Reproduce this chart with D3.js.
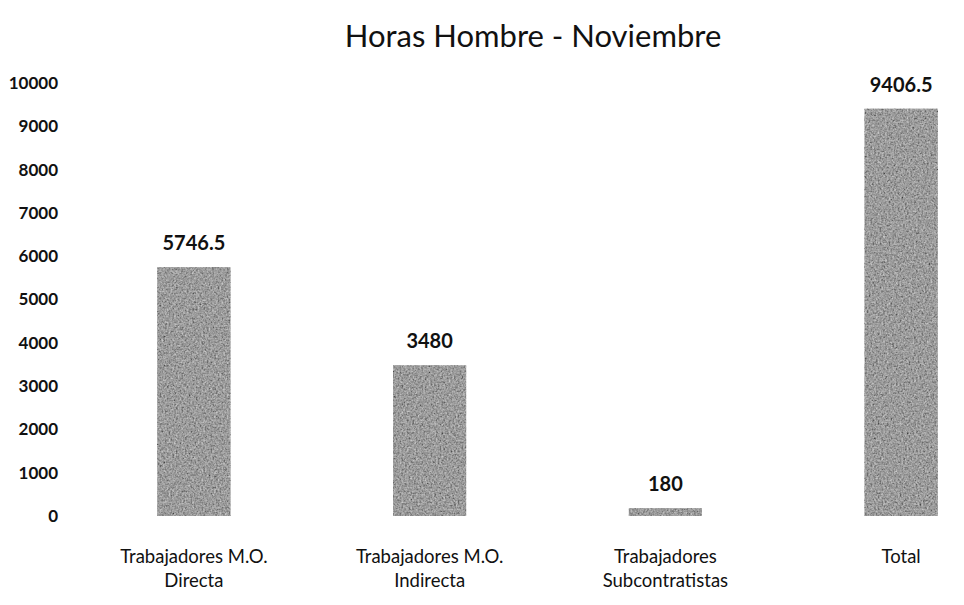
<!DOCTYPE html>
<html>
<head>
<meta charset="utf-8">
<script src="https://cdn.jsdelivr.net/npm/d3@7"></script>
<style>
  html, body { margin: 0; padding: 0; background: #fff; }
  svg { display: block; }
</style>
</head>
<body>
<svg id="chart" width="964" height="605"></svg>
<script>
// Horas hombre por tipo de trabajador, noviembre
const categories = [
  ["Trabajadores M.O.", "Directa"],
  ["Trabajadores M.O.", "Indirecta"],
  ["Trabajadores", "Subcontratistas"],
  ["Total"]
];
const values = [5746.5, 3480, 180, 9406.5];
const valueLabels = ["5746.5", "3480", "180", "9406.5"];
const yTicks = [0, 1000, 2000, 3000, 4000, 5000, 6000, 7000, 8000, 9000, 10000];
const title = "Horas Hombre - Noviembre";

const svg = d3.select("#chart");
const font = "Lato, 'Open Sans', sans-serif";

// grainy grey texture for the bars
const defs = svg.append("defs");
const f = defs.append("filter").attr("id", "grain")
  .attr("x", 0).attr("y", 0).attr("width", "100%").attr("height", "100%");
f.append("feTurbulence").attr("type", "fractalNoise").attr("baseFrequency", 0.55)
  .attr("numOctaves", 3).attr("seed", 5).attr("result", "noise");
f.append("feColorMatrix").attr("in", "noise").attr("type", "matrix")
  .attr("values", "0.33 0.33 0.33 0 0  0.33 0.33 0.33 0 0  0.33 0.33 0.33 0 0  0 0 0 0 1")
  .attr("result", "gray");
f.append("feComposite").attr("in", "SourceGraphic").attr("in2", "gray")
  .attr("operator", "arithmetic").attr("k1", 0).attr("k2", 1).attr("k3", 1.1).attr("k4", -0.55)
  .attr("result", "mix");
f.append("feComposite").attr("in", "mix").attr("in2", "SourceAlpha").attr("operator", "in");

const keys = categories.map(c => c.join(" "));

const x = d3.scaleBand()
  .domain(keys)
  .range([76, 1019])
  .paddingInner(0.69)
  .paddingOuter(0.345);

const y = d3.scaleLinear()
  .domain([0, 10000])
  .range([516, 83]);

// title
svg.append("text")
  .attr("x", 533).attr("y", 47)
  .attr("text-anchor", "middle")
  .attr("font-family", font)
  .attr("font-size", 31)
  .attr("fill", "#111")
  .text(title);

// y axis labels (no axis line)
const yAxis = d3.axisLeft(y).tickValues(yTicks).tickSize(0).tickPadding(0).tickFormat(d3.format("d"));
const gy = svg.append("g").attr("transform", "translate(58,0)").call(yAxis);
gy.select(".domain").remove();
gy.selectAll("text")
  .attr("font-family", font)
  .attr("font-size", 17)
  .attr("font-weight", 700)
  .attr("fill", "#111");

// bars
svg.append("g").selectAll("rect")
  .data(values)
  .join("rect")
  .attr("x", (d, i) => x(keys[i]))
  .attr("width", x.bandwidth())
  .attr("y", d => y(d))
  .attr("height", d => y(0) - y(d))
  .attr("fill", "#9c9c9c")
  .attr("filter", "url(#grain)");

// value labels
svg.append("g").selectAll("text")
  .data(values)
  .join("text")
  .attr("x", (d, i) => x(keys[i]) + x.bandwidth() / 2)
  .attr("y", d => y(d) - 17)
  .attr("text-anchor", "middle")
  .attr("font-family", font)
  .attr("font-size", 20)
  .attr("font-weight", 700)
  .attr("fill", "#111")
  .text((d, i) => valueLabels[i]);

// category labels
const xAxis = d3.axisBottom(x).tickSize(0).tickPadding(0).tickFormat("");
const gx = svg.append("g").attr("transform", `translate(0,${y(0)})`).call(xAxis);
gx.select(".domain").remove();
gx.selectAll(".tick").each(function(d, i) {
  const t = d3.select(this).append("text")
    .attr("text-anchor", "middle")
    .attr("font-family", font)
    .attr("font-size", 18.5)
    .attr("fill", "#111");
  categories[i].forEach((line, j) => {
    t.append("tspan").attr("x", 0).attr("y", 47 + j * 24).text(line);
  });
});
</script>
</body>
</html>
